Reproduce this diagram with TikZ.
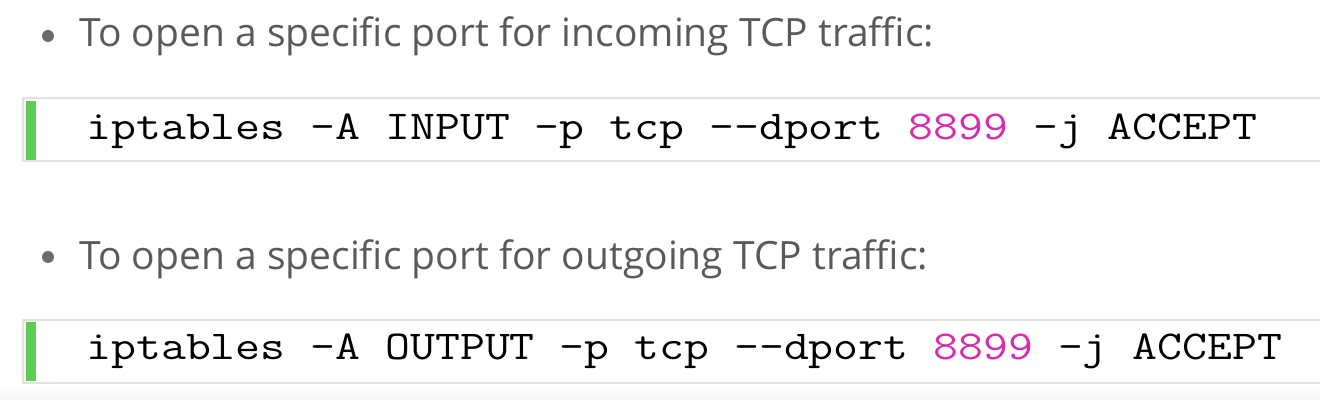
\documentclass[tikz,border=0pt]{standalone}
\usepackage{fontspec}
\setmainfont{Open Sans}
\newfontfamily\codefont[FakeStretch=1.18]{Latin Modern Mono}
\definecolor{txtgray}{HTML}{5A5A5A}
\definecolor{bargreen}{HTML}{5CCD52}
\definecolor{boxline}{HTML}{E2E2DE}
\definecolor{nummag}{HTML}{D62CB0}
\tikzset{
  bullettext/.style={anchor=base west, inner sep=0pt, text=txtgray, font=\fontsize{19.5}{23}\selectfont},
  bulletdot/.style={circle, fill=txtgray!90, inner sep=0pt, minimum size=6pt},
  codebox/.style={draw=boxline, line width=1pt, fill=white},
  codebar/.style={fill=bargreen},
  codetext/.style={anchor=base west, inner sep=0pt, text=black, font=\codefont\fontsize{20.5}{24}\selectfont},
}
\begin{document}
\begin{tikzpicture}[x=0.5pt, y=-0.5pt]
\useasboundingbox (0,0) rectangle (1320,400);
\fill[white] (0,0) rectangle (1320,400);
\shade[top color=white, bottom color=black!4] (0,384) rectangle (1320,400);
% first item
\node[bulletdot] (b1) at (48,36) {};
\node[bullettext] (t1) at (79,46.5) {To open a specific port for incoming TCP traffic:};
\draw[codebox] (23,98.5) rectangle (1325,161.5);
\node[codebar, inner sep=0pt, minimum width=5pt, minimum height=29.5pt, anchor=north west] (g1) at (25.5,100.5) {};
\node[codetext] (c1) at (86,140) {iptables -A INPUT -p tcp --dport \textcolor{nummag}{8899} -j ACCEPT};
% second item
\node[bulletdot] (b2) at (48,257) {};
\node[bullettext] (t2) at (79,269.5) {To open a specific port for outgoing TCP traffic:};
\draw[codebox] (23,319.5) rectangle (1325,382.5);
\node[codebar, inner sep=0pt, minimum width=5pt, minimum height=29.5pt, anchor=north west] (g2) at (25.5,321.5) {};
\node[codetext] (c2) at (86,359) {iptables -A OUTPUT -p tcp --dport \textcolor{nummag}{8899} -j ACCEPT};
\end{tikzpicture}
\end{document}
